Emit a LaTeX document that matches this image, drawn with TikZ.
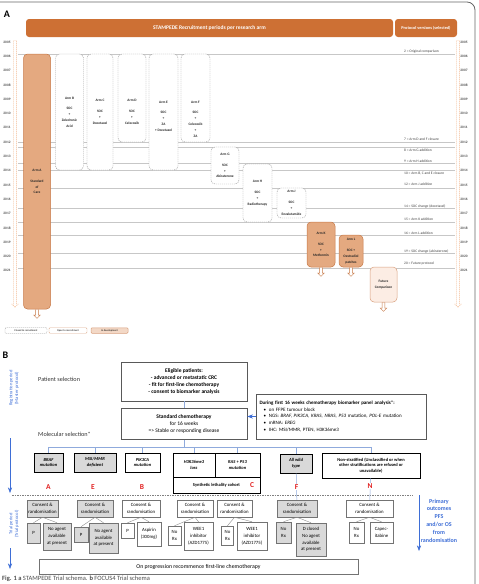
\documentclass[tikz,border=0pt]{standalone}
\usepackage{fontspec}
\setmainfont{Carlito}
\usetikzlibrary{positioning, arrows.meta, shapes.arrows}

\definecolor{stampede}{RGB}{205,112,52}
\definecolor{armfill}{RGB}{228,169,128}
\definecolor{armedge}{RGB}{199,120,70}
\definecolor{futfill}{RGB}{252,237,228}
\definecolor{axisorange}{RGB}{242,185,145}
\definecolor{boxgrey}{RGB}{217,217,217}
\definecolor{feedblue}{RGB}{143,170,220}
\definecolor{labelblue}{RGB}{62,110,214}
\definecolor{armred}{RGB}{226,34,34}

\newcommand{\fsz}[2]{\fontsize{#1}{#2}\selectfont}

\begin{document}
\begin{tikzpicture}[
    x=1pt, y=-1pt,
    >=Stealth,
    node distance=7pt,
    banner/.style={fill=stampede, rounded corners=3, text=white, minimum height=18, inner sep=0},
    yearlab/.style={font=\fsz{3.5}{4}\bfseries, text=black!70, inner sep=0},
    protlab/.style={font=\fsz{3.6}{4}, text=black!75, anchor=west, inner sep=0},
    protline/.style={draw=black!22, line width=0.9},
    closedarm/.style={draw=black!40, dash pattern=on 1.2pt off 0.8pt, fill=white, rounded corners=4, line width=0.4},
    openarm/.style={draw=armedge, fill=armfill, rounded corners=4, line width=0.5},
    futarm/.style={draw=armedge!70, fill=futfill, rounded corners=4, line width=0.5},
    armtxt/.style={font=\fsz{3.5}{5.8}\bfseries, align=center, text=black!85, inner sep=0},
    downarr/.style={single arrow, draw=armedge, fill=white, line width=0.4, rotate=-90, anchor=west, minimum height=9, minimum width=6.5, single arrow head extend=2, inner sep=1.2},
    axisarr/.style={single arrow, draw=axisorange, dash pattern=on 1.2pt off 0.8pt, line width=0.4, rotate=-90, anchor=west, minimum height=267, minimum width=6, single arrow head extend=1.8, inner sep=1.2},
    legbox/.style={font=\fsz{2.6}{3}, minimum height=5.5, inner sep=0, rounded corners=1},
    sidetxt/.style={rotate=90, text=labelblue, font=\fsz{4.6}{5.6}, align=center, inner sep=0},
    seltxt/.style={font=\fsz{6.2}{7}, anchor=west, inner sep=0, text=black!80},
    mainbox/.style={draw=black!65, line width=0.6, align=center, font=\fsz{5.5}{6.7}, inner sep=0},
    catbox/.style={draw=black, line width=0.9, align=center, font=\fsz{4.5}{5.6}\bfseries\itshape, inner sep=0},
    greyed/.style={fill=boxgrey},
    consbox/.style={draw=black!55, line width=0.5, align=center, font=\fsz{4.8}{6.8}, inner sep=0},
    armletter/.style={text=armred, font=\fsz{7.5}{8}\bfseries, fill=white, inner sep=0.6},
    feed/.style={draw=feedblue, line width=0.5},
    branch/.style={draw=black!45, line width=0.4},
    bluearr/.style={->, draw=labelblue, line width=0.6},
    outtxt/.style={text=labelblue, font=\fsz{6}{7.8}\bfseries, align=center, inner sep=0}
]
\useasboundingbox (0,0) rectangle (479,584);
\draw[black!60, line width=0.8, rounded corners=8] (0,2) -- (475,2) -- (475,584);

\node[font=\fsz{10}{11}\bfseries] (panA) at (7,14.5) {A};
\node[banner, minimum width=367, font=\fsz{5.5}{6}\bfseries] (stampede) at (209.5,28) {STAMPEDE Recruitment periods per research arm};
\node[banner, minimum width=62, font=\fsz{4.3}{5}\bfseries] (protocols) at (426,28) {Protocol versions (selected)};

\foreach \yr [count=\i from 0] in {2005,...,2021} {
  \node[yearlab] (yl\yr) at (7,42+14.3*\i) {\yr};
  \node[yearlab] (yr\yr) at (464,42+14.3*\i) {\yr};
}
\node[axisarr] (axisL) at (15,40) {};
\node[axisarr] (axisR) at (458,40) {};

\foreach \ly/\ty/\lab [count=\k] in {54/52/{2 = Original comparison}, 142/139/{7 = Arm D and F closure},
    147/150/{8 = Arm G addition}, 163/161/{9 = Arm H addition}, 170/173/{10 = Arm B, C and E closure},
    188/184/{12 = Arm J addition}, 208/206/{14 = SOC change (docetaxel)}, 222/219/{15 = Arm K addition},
    235/233/{16 = Arm L addition}, 253/251/{19 = SOC change (abiraterone)}, 268/264/{20 = Future protocol}} {
  \coordinate (pl\k) at (18,\ly);
  \coordinate (pr\k) at (455,\ly);
  \draw[protline] (pl\k) -- (pr\k);
  \node[protlab] (pv\k) at (404,\ty) {\lab};
}

\node[openarm, armtxt, minimum width=27, minimum height=255] (armA) at (37,181.5) {Arm A\\[5pt]Standard\\of\\Care};
\node[closedarm, armtxt, minimum width=28, minimum height=116] (armB) at (69.5,112) {Arm B\\[5pt]SOC\\+\\Zoledronic\\Acid};
\node[closedarm, armtxt, minimum width=26, minimum height=116] (armC) at (100,112) {Arm C\\[5pt]SOC\\+\\Docetaxel};
\node[closedarm, minimum width=28, minimum height=88] (armD) at (132,98) {};
\node[armtxt] (armDtxt) at (132,112) {Arm D\\[5pt]SOC\\+\\Celecoxib};
\node[closedarm, minimum width=29, minimum height=116] (armE) at (163.5,112) {};
\node[armtxt] (armEtxt) at (163.5,116) {Arm E\\[5pt]SOC\\+\\ZA\\+ Docetaxel};
\node[closedarm, minimum width=29, minimum height=88] (armF) at (195.5,98) {};
\node[armtxt] (armFtxt) at (195.5,119) {Arm F\\[5pt]SOC\\+\\Celecoxib\\+\\ZA};
\node[closedarm, armtxt, minimum width=28, minimum height=37] (armG) at (225,165.5) {Arm G\\[5pt]SOC\\+\\Abiraterone};
\node[closedarm, armtxt, minimum width=29, minimum height=58] (armH) at (257.5,193) {Arm H\\[5pt]SOC\\+\\Radiotherapy};
\node[closedarm, armtxt, minimum width=29, minimum height=30] (armJ) at (291.5,203) {Arm J\\[5pt]SOC\\+\\Enzalutamide};
\node[openarm, armtxt, minimum width=28, minimum height=45] (armK) at (321,244.5) {Arm K\\[5pt]SOC\\+\\Metformin};
\node[openarm, armtxt, minimum width=24, minimum height=32] (armL) at (351,251) {Arm L\\[5pt]SOC +\\Oestradiol\\patches};
\node[futarm, armtxt, minimum width=27, minimum height=35] (future) at (383.5,284.5) {Future\\Comparison};

\node[downarr] (armAend) at (armA.south) {};
\node[downarr] (armKend) at (armK.south) {};
\node[downarr] (armLend) at (armL.south) {};
\node[downarr] (futureend) at (future.south) {};

\node[closedarm, legbox, minimum width=42] (legClosed) at (26,330.5) {Closed to recruitment};
\node[legbox, draw=armedge!60, line width=0.4, minimum width=38] (legOpen) at (68,330.5) {Open to recruitment};
\node[futarm, legbox, fill=armfill!45, minimum width=37] (legDev) at (109.5,330.5) {In development};

\node[font=\fsz{10}{11}\bfseries] (panB) at (5.5,355) {B};
\node[sidetxt] (regtxt) at (14,388) {Registration period\\(Master protocol)};
\node[sidetxt] (trialtxt) at (14,524) {Trial period\\(Trial protocol)};
\coordinate (regTop) at (10,438);
\coordinate (regEnd) at (10,493);
\coordinate (trialTop) at (10,548);
\coordinate (trialEnd) at (10,569);
\draw[bluearr] (regTop) -- (regEnd);
\draw[bluearr] (trialTop) -- (trialEnd);

\node[seltxt] (patsel) at (38,379) {Patient selection};
\node[seltxt] (molsel) at (38,434) {Molecular selection*};
\node[mainbox, font=\fsz{5.5}{6.7}\bfseries, minimum width=126, minimum height=39] (elig) at (184,381.5) {Eligible patients:\\- advanced or metastatic CRC\\- fit for first-line chemotherapy\\- consent to biomarker analysis};
\node[mainbox, minimum width=126, minimum height=31, below=of elig] (chemo) {\textbf{Standard chemotherapy}\\for 16 weeks\\=> Stable or responding disease};
\draw[feed] (elig) -- (chemo);
\node[mainbox, align=left, font=\fsz{5}{6.8}, minimum width=170, minimum height=45, text width=163] (bio) at (341,416.5) {\textbf{During first 16 weeks chemotherapy biomarker panel analysis*:}\\
  \hspace*{4pt}\textbullet\hspace{3pt}on FFPE tumour block\\
  \hspace*{4pt}\textbullet\hspace{3pt}NGS: \textit{BRAF, PIK3CA, KRAS, NRAS, P53} mutation, \textit{POL-E} mutation\\
  \hspace*{4pt}\textbullet\hspace{3pt}mRNA: \textit{EREG}\\
  \hspace*{4pt}\textbullet\hspace{3pt}IHC: MSI/MMR, PTEN, H3K36me3};
\draw[bluearr] (bio.west) -- (bio.west -| chemo.east);

\node[catbox, greyed, minimum width=29, minimum height=19] (braf) at (48.5,462.5) {BRAF\\mutation};
\node[catbox, greyed, minimum width=42, minimum height=19] (msi) at (95,462.5) {MSI/MMR\\deficient};
\node[catbox, minimum width=35, minimum height=19] (pik) at (142.5,462.5) {PIK3CA\\mutation};
\node[catbox, minimum width=42, minimum height=24] (h3k) at (194,465) {H3K36me3\\loss};
\node[catbox, minimum width=45, minimum height=24] (ras) at (237.5,465) {RAS + P53\\mutation};
\node[catbox, font=\fsz{4.5}{5.6}\bfseries, minimum width=87, minimum height=16] (slc) at (216.5,485) {Synthetic lethality cohort};
\node[catbox, greyed, minimum width=32, minimum height=19] (awt) at (296,463.5) {All wild\\type};
\node[catbox, font=\fsz{4.5}{5.6}\bfseries, minimum width=98, minimum height=25] (nst) at (371,465.5) {Non-stratified (Unclassified or when\\other stratifications are refused or\\unavailable)};

\coordinate (hubL) at (48.5,447);
\coordinate (hubR) at (371,447);
\draw[feed] (hubL) -- (hubR);
\draw[feed] (chemo) -- (chemo |- hubL);
\foreach \c in {braf,msi,pik,h3k,ras,awt,nst}
  \draw[feed] (\c |- hubL) -- (\c);

\coordinate (divL) at (12,495);
\coordinate (divR) at (413,495);
\draw[black!50, dash pattern=on 1.5pt off 1pt, line width=0.6] (divL) -- (divR);

\node[consbox, greyed, minimum width=31, minimum height=17] (consA) at (42.5,508.5) {Consent \&\\randomisation};
\node[consbox, greyed, minimum width=36, minimum height=17] (consE) at (95,508.5) {Consent \&\\randomisation};
\node[consbox, minimum width=38, minimum height=17] (consB) at (141,508.5) {Consent \&\\randomisation};
\node[consbox, minimum width=36, minimum height=17] (consC1) at (195,508.5) {Consent \&\\randomisation};
\node[consbox, minimum width=35, minimum height=17] (consC2) at (234.5,508.5) {Consent \&\\randomisation};
\node[consbox, greyed, minimum width=40, minimum height=17] (consF) at (297,508.5) {Consent \&\\randomisation};
\node[consbox, minimum width=47, minimum height=17] (consN) at (369.5,508.5) {Consent \&\\randomisation};

\draw[feed] (awt) -- (consF);
\draw[feed] (nst) -- (consN);
\node[armletter] (letA) at (48.5,487) {A};
\node[armletter] (letE) at (93,487) {E};
\node[armletter] (letB) at (142,487) {B};
\node[armletter] (letC) at (252,485) {C};
\node[armletter] (letF) at (296.5,487) {F};
\node[armletter] (letN) at (370,486) {N};

\node[consbox, greyed, minimum width=13, minimum height=20] (plA) at (33.5,533) {P};
\node[consbox, greyed, minimum width=28, minimum height=27] (noneA) at (57,536.5) {No agent\\available\\at present};
\node[consbox, greyed, minimum width=14, minimum height=15] (plE) at (81,534.5) {P};
\node[consbox, greyed, minimum width=29, minimum height=30] (noneE) at (103.5,538) {No agent\\available\\at present};
\node[consbox, minimum width=13, minimum height=15] (plB) at (127.5,530.5) {P};
\node[consbox, minimum width=24, minimum height=24] (aspirin) at (149,534) {Aspirin\\(300mg)};
\node[consbox, minimum width=13, minimum height=19] (norxC1) at (174.5,535.5) {No\\Rx};
\node[consbox, minimum width=29, minimum height=28] (weeC1) at (198.5,536) {WEE1\\inhibitor\\(AZD1775)};
\node[consbox, minimum width=12, minimum height=19] (norxC2) at (227.5,535.5) {No\\Rx};
\node[consbox, minimum width=30, minimum height=28] (weeC2) at (252,536) {WEE1\\inhibitor\\(AZD1775)};
\node[consbox, greyed, minimum width=15, minimum height=21] (norxF) at (283.5,532.5) {No\\Rx};
\node[consbox, greyed, minimum width=30, minimum height=33] (closedD) at (311,539.5) {D closed\\No agent\\available\\at present};
\node[consbox, minimum width=15, minimum height=21] (norxN) at (356.5,532.5) {No\\Rx};
\node[consbox, minimum width=23, minimum height=21] (capec) at (381.5,532.5) {Capec-\\itabine};

\draw[branch] (consA.south) -- (plA.north);
\draw[branch] (consA.south) -- (noneA.north);
\draw[branch] (consE.south) -- (plE.north);
\draw[branch] (consE.south) -- (noneE.north);
\draw[branch] (consB.south) -- (plB.north);
\draw[branch] (consB.south) -- (aspirin.north);
\draw[branch] (consC1.south) -- (norxC1.north);
\draw[branch] (consC1.south) -- (weeC1.north);
\draw[branch] (consC2.south) -- (norxC2.north);
\draw[branch] (consC2.south) -- (weeC2.north);
\draw[branch] (consF.south) -- (norxF.north);
\draw[branch] (consF.south) -- (closedD.north);
\draw[branch] (consN.south) -- (norxN.north);
\draw[branch] (consN.south) -- (capec.north);

\node[consbox, font=\fsz{5.8}{7}, minimum width=319, minimum height=15] (prog) at (198.5,566.5) {On progression recommence first-line chemotherapy};

\coordinate (outTop) at (419,495);
\coordinate (outEnd) at (419,551);
\draw[bluearr] (outTop) -- (outEnd);
\node[outtxt] (outcome) at (439,520.5) {Primary\\outcomes\\PFS\\and/or OS\\from\\randomisation};

\node[anchor=west, font=\fsz{6.5}{7}, text=black!70, inner sep=0] (caption) at (2,579) {\textbf{Fig. 1} \textbf{a} STAMPEDE Trial schema. \textbf{b} FOCUS4 Trial schema};
\end{tikzpicture}
\end{document}
